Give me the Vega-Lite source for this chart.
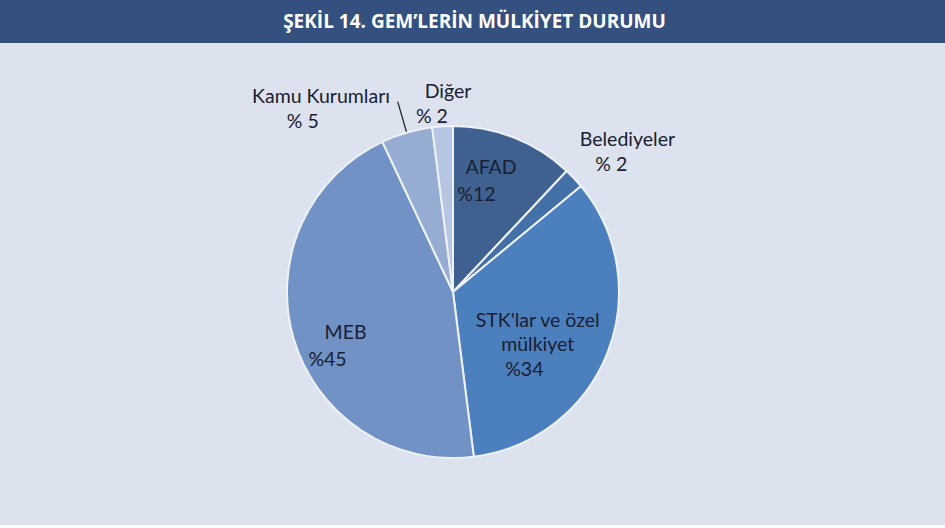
{
  "$schema": "https://vega.github.io/schema/vega-lite/v6.json",
  "background": "#dce3ef",
  "padding": 0,
  "spacing": 16,
  "bounds": "flush",
  "config": {"view": {"stroke": null}},
  "vconcat": [
    {
      "width": 945,
      "height": 43,
      "view": {"fill": "#34507f", "stroke": null},
      "data": {"values": [{"t": "ŞEKİL 14. GEM’LERİN MÜLKİYET DURUMU"}]},
      "mark": {"type": "text", "color": "white", "font": "Open Sans", "fontWeight": "bold", "fontSize": 19, "dx": 2},
      "encoding": {"text": {"field": "t", "type": "nominal"}}
    },
    {
      "width": 906,
      "height": 466,
      "data": {"values": [
        {"o": 1, "cat": "AFAD", "v": 12, "name": "AFAD", "pct": "%12"},
        {"o": 2, "cat": "Belediyeler", "v": 2, "name": "Belediyeler", "pct": "% 2"},
        {"o": 3, "cat": "STK", "v": 34, "name": "STK'lar ve özel\nmülkiyet", "pct": "%34"},
        {"o": 4, "cat": "MEB", "v": 45, "name": "MEB", "pct": "%45"},
        {"o": 5, "cat": "Kamu Kurumları", "v": 5, "name": "Kamu Kurumları", "pct": "% 5"},
        {"o": 6, "cat": "Diğer", "v": 2, "name": "Diğer", "pct": "% 2"}
      ]},
      "encoding": {
        "theta": {"field": "v", "type": "quantitative", "stack": true},
        "order": {"field": "o", "type": "quantitative"},
        "detail": {"field": "cat", "type": "nominal"}
      },
      "layer": [
        {
          "mark": {"type": "arc", "outerRadius": 166, "stroke": "#eef2f8", "strokeWidth": 2},
          "encoding": {
            "color": {"field": "cat", "type": "nominal", "legend": null,
              "scale": {"domain": ["AFAD", "Belediyeler", "STK", "MEB", "Kamu Kurumları", "Diğer"],
                        "range": ["#3e6190", "#4470a8", "#4b7fbd", "#7092c4", "#97acd2", "#b6c5e1"]}}
          }
        },
        {
          "mark": {"type": "arc", "innerRadius": 167, "outerRadius": 198, "padAngle": 1, "fill": "transparent", "strokeWidth": 1.3},
          "encoding": {
            "stroke": {"condition": {"test": "datum.cat === 'Kamu Kurumları'", "value": "#1e2430"}, "value": "transparent"}
          }
        },
        {
          "mark": {"type": "text", "radius": 129, "dx": -9.5, "dy": -4, "font": "Lato", "fontSize": 19.5, "color": "#1a2030"},
          "encoding": {"text": {"condition": {"test": "datum.cat === 'AFAD'", "field": "name", "type": "nominal"}, "value": ""}}
        },
        {
          "mark": {"type": "text", "radius": 99, "dx": -13, "dy": -5, "font": "Lato", "fontSize": 19.5, "color": "#1a2030"},
          "encoding": {"text": {"condition": {"test": "datum.cat === 'AFAD'", "field": "pct", "type": "nominal"}, "value": ""}}
        },
        {
          "mark": {"type": "text", "radius": 231, "dx": 6, "dy": 6, "font": "Lato", "fontSize": 19.5, "color": "#1a2030"},
          "encoding": {"text": {"condition": {"test": "datum.cat === 'Belediyeler'", "field": "name", "type": "nominal"}, "value": ""}}
        },
        {
          "mark": {"type": "text", "radius": 202, "dx": 11, "dy": 11, "font": "Lato", "fontSize": 19.5, "color": "#1a2030"},
          "encoding": {"text": {"condition": {"test": "datum.cat === 'Belediyeler'", "field": "pct", "type": "nominal"}, "value": ""}}
        },
        {
          "mark": {"type": "text", "radius": 89, "dx": 2, "dy": -4, "font": "Lato", "fontSize": 19.5, "color": "#1a2030", "lineBreak": "\n", "lineHeight": 24},
          "encoding": {"text": {"condition": {"test": "datum.cat === 'STK'", "field": "name", "type": "nominal"}, "value": ""}}
        },
        {
          "mark": {"type": "text", "radius": 95, "dx": -17, "dy": 43, "font": "Lato", "fontSize": 19.5, "color": "#1a2030"},
          "encoding": {"text": {"condition": {"test": "datum.cat === 'STK'", "field": "pct", "type": "nominal"}, "value": ""}}
        },
        {
          "mark": {"type": "text", "radius": 114, "dx": 2, "dy": 9, "font": "Lato", "fontSize": 19.5, "color": "#1a2030"},
          "encoding": {"text": {"condition": {"test": "datum.cat === 'MEB'", "field": "name", "type": "nominal"}, "value": ""}}
        },
        {
          "mark": {"type": "text", "radius": 139, "dx": 8, "dy": 29, "font": "Lato", "fontSize": 19.5, "color": "#1a2030"},
          "encoding": {"text": {"condition": {"test": "datum.cat === 'MEB'", "field": "pct", "type": "nominal"}, "value": ""}}
        },
        {
          "mark": {"type": "text", "radius": 224, "dx": -69.5, "dy": 20, "font": "Lato", "fontSize": 19.5, "color": "#1a2030"},
          "encoding": {"text": {"condition": {"test": "datum.cat === 'Kamu Kurumları'", "field": "name", "type": "nominal"}, "value": ""}}
        },
        {
          "mark": {"type": "text", "radius": 205, "dx": -93, "dy": 27, "font": "Lato", "fontSize": 19.5, "color": "#1a2030"},
          "encoding": {"text": {"condition": {"test": "datum.cat === 'Kamu Kurumları'", "field": "pct", "type": "nominal"}, "value": ""}}
        },
        {
          "mark": {"type": "text", "radius": 200, "dx": 7.6, "dy": -0.4, "font": "Lato", "fontSize": 19.5, "color": "#1a2030"},
          "encoding": {"text": {"condition": {"test": "datum.cat === 'Diğer'", "field": "name", "type": "nominal"}, "value": ""}}
        },
        {
          "mark": {"type": "text", "radius": 176, "dx": -10, "dy": 1, "font": "Lato", "fontSize": 19.5, "color": "#1a2030"},
          "encoding": {"text": {"condition": {"test": "datum.cat === 'Diğer'", "field": "pct", "type": "nominal"}, "value": ""}}
        }
      ]
    }
  ]
}
